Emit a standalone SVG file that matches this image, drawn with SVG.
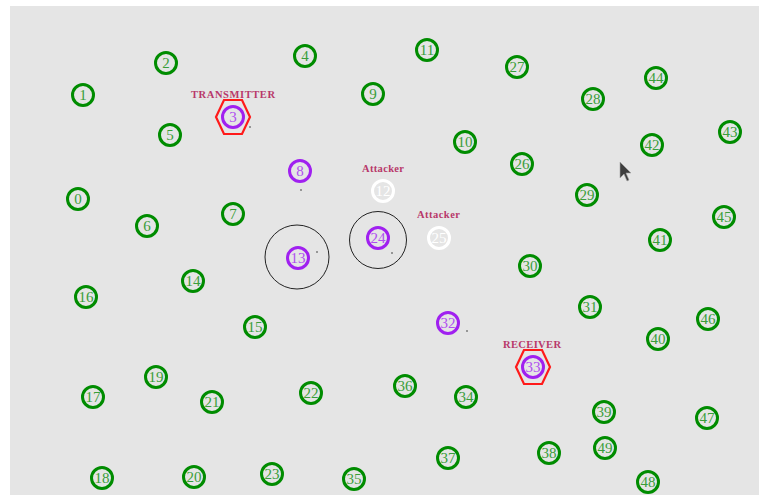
<svg xmlns="http://www.w3.org/2000/svg" width="759" height="495" viewBox="0 0 759 495">
<style>
.g .r{fill:none;stroke:#008c00;stroke-width:3}
.g .n{fill:#3a9e3a}
.p .r{fill:none;stroke:#a020f0;stroke-width:3}
.p .n{fill:#b050f0}
.w .r{fill:none;stroke:#ffffff;stroke-width:3}
.w .n{fill:#ffffff}
.n{font-family:"Liberation Serif","DejaVu Serif",serif;font-size:15px;text-anchor:middle;dominant-baseline:central}
.lbl{font-family:"Liberation Serif","DejaVu Serif",serif;font-size:10.5px;font-weight:bold;fill:#b8386a}
.hex{fill:none;stroke:#ff1a1a;stroke-width:2.2}
.range{fill:none;stroke:#222;stroke-width:1}
.dot{fill:#333}
</style>
<rect x="0" y="0" width="759" height="495" fill="#ffffff"/>
<rect x="10" y="6" width="749" height="489" fill="#e5e5e5"/>
<g id="connectors"></g>
<g id="ranges">
<circle class="range" cx="297" cy="257" r="32"/>
<circle class="range" cx="378" cy="240" r="28.5"/>
</g>
<g id="node0" class="g"><circle class="r" cx="78" cy="199" r="10.5"/><text class="n" x="78" y="199">0</text></g>
<g id="node1" class="g"><circle class="r" cx="83" cy="95" r="10.5"/><text class="n" x="83" y="95">1</text></g>
<g id="node2" class="g"><circle class="r" cx="166" cy="63" r="10.5"/><text class="n" x="166" y="63">2</text></g>
<g id="node3" class="p"><polygon class="hex" points="216,117 224,100 242,100 250,117 242,134 224,134"/><circle class="r" cx="233" cy="117" r="10.5"/><text class="n" x="233" y="117">3</text><text class="lbl" x="191" y="98" textLength="84">TRANSMITTER</text><circle class="dot" cx="250" cy="127" r="0.8"/></g>
<g id="node4" class="g"><circle class="r" cx="305" cy="56" r="10.5"/><text class="n" x="305" y="56">4</text></g>
<g id="node5" class="g"><circle class="r" cx="170" cy="135" r="10.5"/><text class="n" x="170" y="135">5</text></g>
<g id="node6" class="g"><circle class="r" cx="147" cy="226" r="10.5"/><text class="n" x="147" y="226">6</text></g>
<g id="node7" class="g"><circle class="r" cx="233" cy="214" r="10.5"/><text class="n" x="233" y="214">7</text></g>
<g id="node8" class="p"><circle class="r" cx="300" cy="171" r="10.5"/><text class="n" x="300" y="171">8</text><circle class="dot" cx="301" cy="190" r="0.8"/></g>
<g id="node9" class="g"><circle class="r" cx="373" cy="94" r="10.5"/><text class="n" x="373" y="94">9</text></g>
<g id="node10" class="g"><circle class="r" cx="465" cy="142" r="10.5"/><text class="n" x="465" y="142">10</text></g>
<g id="node11" class="g"><circle class="r" cx="427" cy="50" r="10.5"/><text class="n" x="427" y="50">11</text></g>
<g id="node12" class="w"><circle class="r" cx="383" cy="191" r="10.5"/><text class="n" x="383" y="191">12</text><text class="lbl" x="362" y="172" textLength="42">Attacker</text></g>
<g id="node13" class="p"><circle class="r" cx="298" cy="258" r="10.5"/><text class="n" x="298" y="258">13</text><circle class="dot" cx="317" cy="252" r="0.8"/></g>
<g id="node14" class="g"><circle class="r" cx="193" cy="281" r="10.5"/><text class="n" x="193" y="281">14</text></g>
<g id="node15" class="g"><circle class="r" cx="255" cy="327" r="10.5"/><text class="n" x="255" y="327">15</text></g>
<g id="node16" class="g"><circle class="r" cx="86" cy="297" r="10.5"/><text class="n" x="86" y="297">16</text></g>
<g id="node17" class="g"><circle class="r" cx="93" cy="397" r="10.5"/><text class="n" x="93" y="397">17</text></g>
<g id="node18" class="g"><circle class="r" cx="102" cy="478" r="10.5"/><text class="n" x="102" y="478">18</text></g>
<g id="node19" class="g"><circle class="r" cx="156" cy="377" r="10.5"/><text class="n" x="156" y="377">19</text></g>
<g id="node20" class="g"><circle class="r" cx="194" cy="477" r="10.5"/><text class="n" x="194" y="477">20</text></g>
<g id="node21" class="g"><circle class="r" cx="212" cy="402" r="10.5"/><text class="n" x="212" y="402">21</text></g>
<g id="node22" class="g"><circle class="r" cx="311" cy="393" r="10.5"/><text class="n" x="311" y="393">22</text></g>
<g id="node23" class="g"><circle class="r" cx="272" cy="474" r="10.5"/><text class="n" x="272" y="474">23</text></g>
<g id="node24" class="p"><circle class="r" cx="378" cy="238" r="10.5"/><text class="n" x="378" y="238">24</text><circle class="dot" cx="392" cy="253" r="0.8"/></g>
<g id="node25" class="w"><circle class="r" cx="439" cy="238" r="10.5"/><text class="n" x="439" y="238">25</text><text class="lbl" x="417" y="218" textLength="43">Attacker</text></g>
<g id="node26" class="g"><circle class="r" cx="522" cy="164" r="10.5"/><text class="n" x="522" y="164">26</text></g>
<g id="node27" class="g"><circle class="r" cx="517" cy="67" r="10.5"/><text class="n" x="517" y="67">27</text></g>
<g id="node28" class="g"><circle class="r" cx="593" cy="99" r="10.5"/><text class="n" x="593" y="99">28</text></g>
<g id="node29" class="g"><circle class="r" cx="587" cy="195" r="10.5"/><text class="n" x="587" y="195">29</text></g>
<g id="node30" class="g"><circle class="r" cx="530" cy="266" r="10.5"/><text class="n" x="530" y="266">30</text></g>
<g id="node31" class="g"><circle class="r" cx="590" cy="307" r="10.5"/><text class="n" x="590" y="307">31</text></g>
<g id="node32" class="p"><circle class="r" cx="448" cy="323" r="10.5"/><text class="n" x="448" y="323">32</text><circle class="dot" cx="467" cy="331" r="0.8"/></g>
<g id="node33" class="p"><polygon class="hex" points="516,367 524,350 542,350 550,367 542,384 524,384"/><circle class="r" cx="533" cy="367" r="10.5"/><text class="n" x="533" y="367">33</text><text class="lbl" x="503" y="348" textLength="58">RECEIVER</text></g>
<g id="node34" class="g"><circle class="r" cx="466" cy="397" r="10.5"/><text class="n" x="466" y="397">34</text></g>
<g id="node35" class="g"><circle class="r" cx="354" cy="479" r="10.5"/><text class="n" x="354" y="479">35</text></g>
<g id="node36" class="g"><circle class="r" cx="405" cy="386" r="10.5"/><text class="n" x="405" y="386">36</text></g>
<g id="node37" class="g"><circle class="r" cx="448" cy="458" r="10.5"/><text class="n" x="448" y="458">37</text></g>
<g id="node38" class="g"><circle class="r" cx="549" cy="453" r="10.5"/><text class="n" x="549" y="453">38</text></g>
<g id="node39" class="g"><circle class="r" cx="604" cy="412" r="10.5"/><text class="n" x="604" y="412">39</text></g>
<g id="node40" class="g"><circle class="r" cx="658" cy="339" r="10.5"/><text class="n" x="658" y="339">40</text></g>
<g id="node41" class="g"><circle class="r" cx="660" cy="240" r="10.5"/><text class="n" x="660" y="240">41</text></g>
<g id="node42" class="g"><circle class="r" cx="652" cy="145" r="10.5"/><text class="n" x="652" y="145">42</text></g>
<g id="node43" class="g"><circle class="r" cx="730" cy="132" r="10.5"/><text class="n" x="730" y="132">43</text></g>
<g id="node44" class="g"><circle class="r" cx="656" cy="78" r="10.5"/><text class="n" x="656" y="78">44</text></g>
<g id="node45" class="g"><circle class="r" cx="724" cy="217" r="10.5"/><text class="n" x="724" y="217">45</text></g>
<g id="node46" class="g"><circle class="r" cx="708" cy="319" r="10.5"/><text class="n" x="708" y="319">46</text></g>
<g id="node47" class="g"><circle class="r" cx="707" cy="418" r="10.5"/><text class="n" x="707" y="418">47</text></g>
<g id="node48" class="g"><circle class="r" cx="648" cy="482" r="10.5"/><text class="n" x="648" y="482">48</text></g>
<g id="node49" class="g"><circle class="r" cx="605" cy="448" r="10.5"/><text class="n" x="605" y="448">49</text></g>
<g id="cursor"><polygon points="620,162 620,178 624,174 627,181 629,180 626,173 631,173" fill="#222" stroke="#999" stroke-width="0.6" opacity="0.85"/></g>
</svg>
